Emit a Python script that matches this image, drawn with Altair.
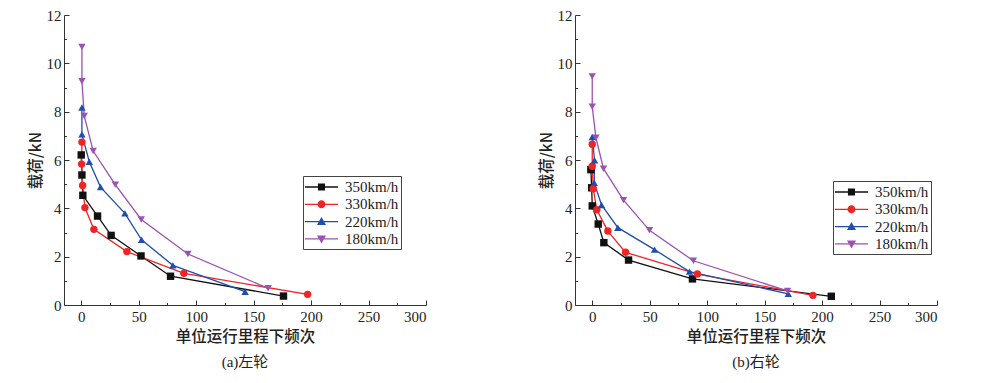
import altair as alt
import pandas as pd

series_names = ["350km/h", "330km/h", "220km/h", "180km/h"]
colors = ["#111111", "#f02424", "#1f4faa", "#9b52b3"]
shapes = ["square", "circle", "triangle-up", "triangle-down"]

# Left wheel (a)
L350_x = [0, 0.6, 1.4, 14.2, 26, 52, 77.7, 176]
L350_y = [6.21, 5.38, 4.54, 3.68, 2.88, 2.03, 1.19, 0.37]
L330_x = [0.6, 0.3, 1.2, 3.2, 11, 39.7, 89.3, 197]
L330_y = [6.74, 5.83, 4.95, 4.03, 3.13, 2.21, 1.31, 0.44]
L220_x = [0.6, 0.6, 7, 16.8, 38, 52.5, 79.7, 142.6]
L220_y = [8.17, 7.06, 5.93, 4.88, 3.79, 2.70, 1.64, 0.55]
L180_x = [0.6, 0.6, 2.6, 10.4, 29.6, 52.2, 92.8, 162.6]
L180_y = [10.68, 9.26, 7.82, 6.37, 4.98, 3.54, 2.11, 0.69]

# Right wheel (b)
R350_x = [-1.2, -0.5, 0, 5.2, 10.1, 31.6, 87.2, 208]
R350_y = [5.6, 4.85, 4.1, 3.35, 2.58, 1.86, 1.08, 0.36]
R330_x = [0, 0, 0.9, 4, 13.6, 29, 91.5, 192]
R330_y = [6.65, 5.74, 4.81, 3.94, 3.06, 2.18, 1.28, 0.40]
R220_x = [0, 2, 1.7, 8.1, 22.3, 54.2, 84.6, 170.6]
R220_y = [6.95, 5.99, 5.06, 4.14, 3.20, 2.29, 1.38, 0.46]
R180_x = [0, 0, 3.2, 9.8, 27.2, 49.8, 88, 170]
R180_y = [9.46, 8.21, 6.92, 5.64, 4.34, 3.09, 1.83, 0.58]

x_ticks = list(range(0, 301, 25))
y_ticks = list(range(0, 13, 1))

# legend glyphs: a line segment with the marker in the middle
legend_paths = [
    "M-1,-0.075H2.67V0.075H-1Z M0.44,-0.39H1.22V0.39H0.44Z",
    "M-1,-0.075H2.67V0.075H-1Z M1.27,0A0.44,0.44 0 1,1 0.39,0A0.44,0.44 0 1,1 1.27,0Z",
    "M-1,-0.075H2.67V0.075H-1Z M0.83,-0.5L1.33,0.38H0.33Z",
    "M-1,-0.075H2.67V0.075H-1Z M0.83,0.5L0.33,-0.38H1.33Z",
]

SERIF = "Liberation Serif, Noto Sans CJK SC"
CJK = "Noto Sans CJK SC"


def make_df(xs_list, ys_list):
    rows = []
    for name, xs, ys in zip(series_names, xs_list, ys_list):
        for i, (xv, yv) in enumerate(zip(xs, ys)):
            rows.append({"series": name, "x": xv, "y": yv, "idx": i})
    return pd.DataFrame(rows)


def panel(df, subtitle, lx, ly):
    xenc = alt.X(
        "x:Q",
        scale=alt.Scale(domain=[-15, 300], nice=False, zero=False),
        axis=alt.Axis(
            values=x_ticks,
            labelExpr="datum.value % 50 === 0 ? datum.label : ''",
            tickSize=alt.ExprRef("datum.value % 50 === 0 ? -5 : -2.5"),
            title="单位运行里程下频次",
            titleFont=CJK,
            titleFontSize=15.5,
            titleFontWeight=500,
            titleColor="#222",
            titlePadding=3,
            labelFont=SERIF,
            labelFontSize=15,
            labelColor="#222",
            labelPadding=9,
            labelOverlap=False,
            grid=False,
            domainColor="#333",
            tickColor="#333",
        ),
    )
    yenc = alt.Y(
        "y:Q",
        scale=alt.Scale(domain=[0, 12], nice=False),
        axis=alt.Axis(
            values=y_ticks,
            labelExpr="datum.value % 2 === 0 ? datum.label : ''",
            tickSize=alt.ExprRef("datum.value % 2 === 0 ? -5 : -2.5"),
            title="载荷/kN",
            titleFont=CJK,
            titleFontSize=15.5,
            titleFontWeight=500,
            titleColor="#222",
            titlePadding=3,
            labelFont=SERIF,
            labelFontSize=15,
            labelColor="#222",
            labelPadding=8,
            labelOverlap=False,
            grid=False,
            domainColor="#333",
            tickColor="#333",
        ),
    )
    cscale = alt.Scale(domain=series_names, range=colors)
    base = alt.Chart(df)
    lines = base.mark_line(strokeWidth=1.3).encode(
        x=xenc, y=yenc,
        color=alt.Color("series:N", scale=cscale, legend=None),
        order="idx:O",
    )
    points = base.mark_point(filled=True, opacity=1, size=55).encode(
        x=xenc, y=yenc,
        color=alt.Color("series:N", scale=cscale, legend=None),
        shape=alt.Shape("series:N", scale=alt.Scale(domain=series_names, range=shapes), legend=None),
    )
    leg = alt.Legend(
        orient="none", legendX=lx, legendY=ly, title=None,
        symbolSize=324, symbolStrokeWidth=0, symbolOpacity=1,
        labelFont=SERIF, labelFontSize=15, labelColor="#222", labelOffset=22,
        labelLimit=200, strokeColor="#444", padding=2, rowPadding=0.3,
        fillColor="white",
    )
    legend_layer = base.mark_point(filled=True, opacity=1).encode(
        color=alt.Color("series:N", scale=cscale, legend=leg),
        shape=alt.Shape("series:N", scale=alt.Scale(domain=series_names, range=legend_paths), legend=leg),
    ).transform_filter("false")
    return alt.layer(lines, points, legend_layer).resolve_scale(
        color="independent", shape="independent"
    ).properties(
        width=362, height=290,
        title=alt.TitleParams(subtitle, orient="bottom", font=SERIF, fontSize=15,
                              fontWeight="normal", color="#222", offset=10),
    )


left = panel(make_df([L350_x, L330_x, L220_x, L180_x], [L350_y, L330_y, L220_y, L180_y]), "(a)左轮", 239, 161)
right = panel(make_df([R350_x, R330_x, R220_x, R180_x], [R350_y, R330_y, R220_y, R180_y]), "(b)右轮", 258, 166)

chart = alt.hconcat(left, right, spacing=112).properties(
    padding={"left": 20, "top": 0, "right": 0, "bottom": 0}
).configure_view(stroke=None)

chart.save("out.html", embed_options={"renderer": "svg", "actions": False})
